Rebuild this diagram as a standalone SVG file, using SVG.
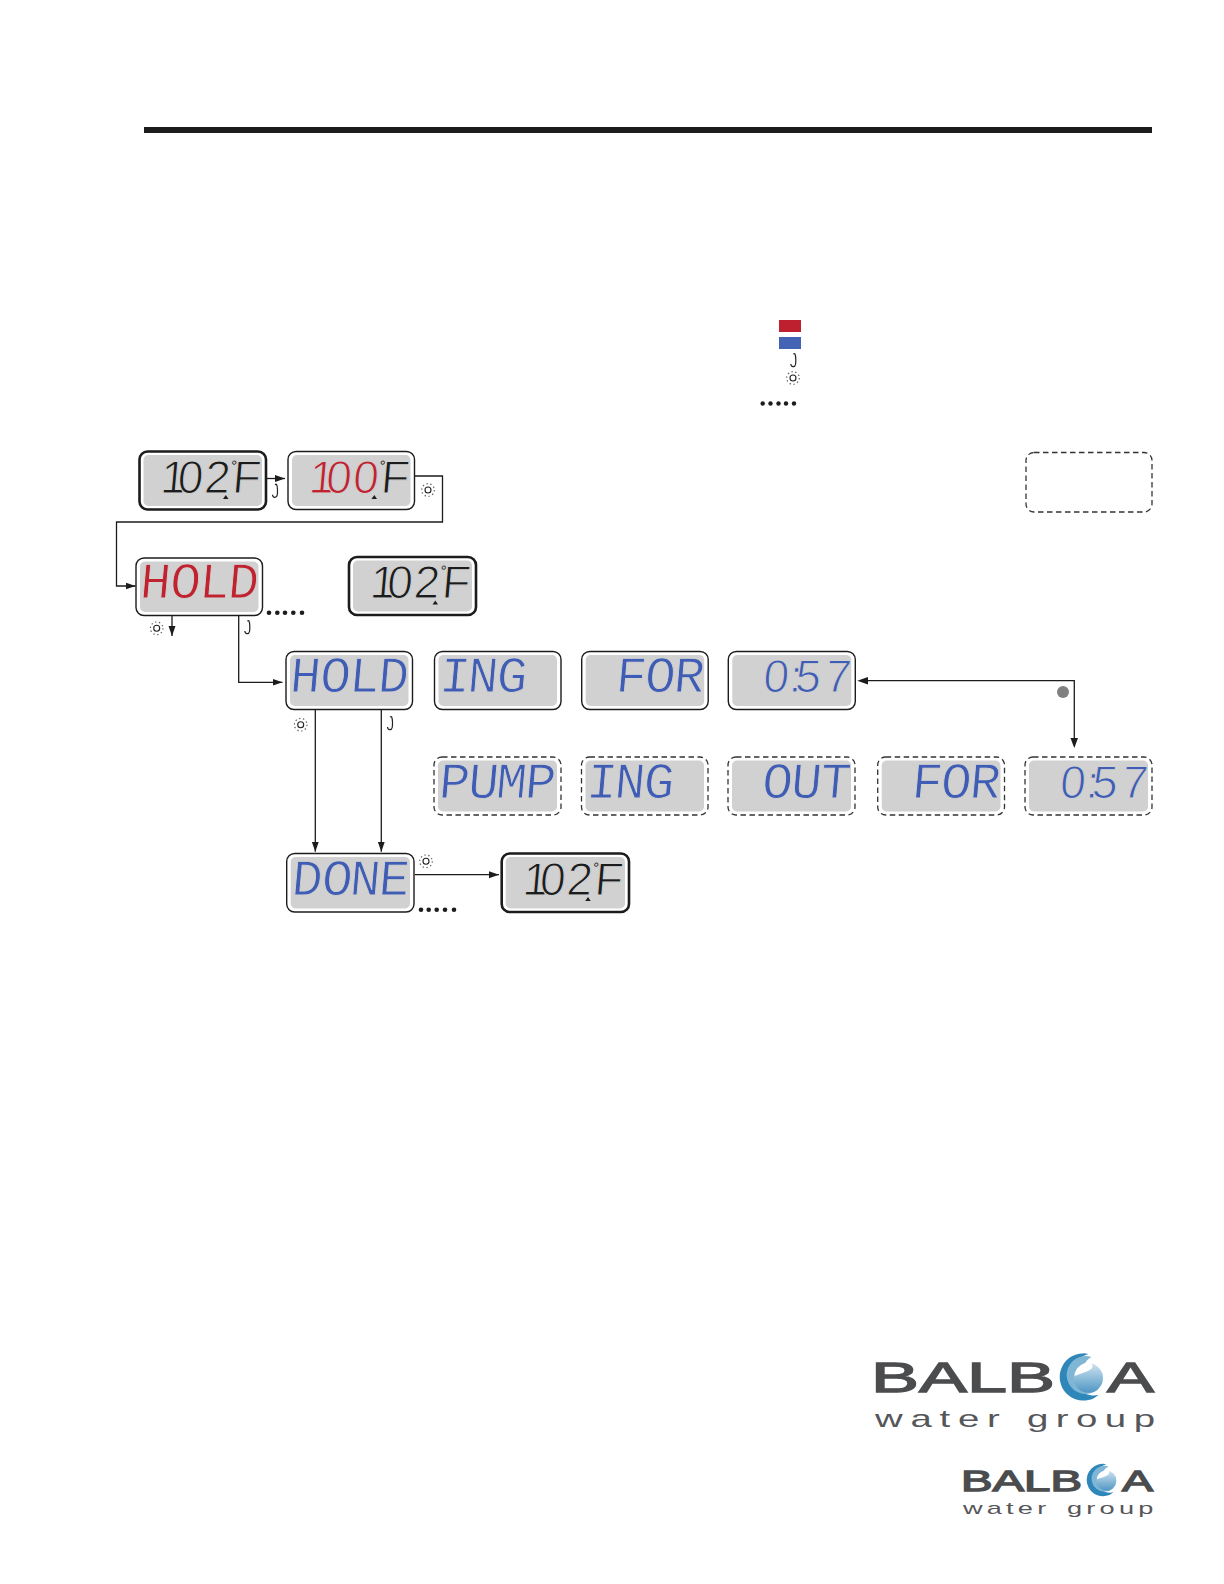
<svg xmlns="http://www.w3.org/2000/svg" width="1224" height="1584" viewBox="0 0 1224 1584">
<style>
.thin{fill:#fff;stroke:#1c1c1c;stroke-width:1.4}
.thick{fill:#fff;stroke:#1c1c1c;stroke-width:2.6}
.dash{fill:#fff;stroke:#333;stroke-width:1.3;stroke-dasharray:5.500 3.500}
.lcd{fill:#d1d1d1;stroke:none}
.seg{font-family:"Liberation Mono",monospace;font-size:51px;stroke:#d1d1d1;stroke-width:.9}
.num{font-family:"Liberation Sans",Arial,sans-serif;font-size:46px;stroke:#d1d1d1;stroke-width:1.1}
.deg{font-size:15px;stroke:none}
.k{fill:#1c1c1c}.r{fill:#c0222f}.b{fill:#3f5db5}
.tri{fill:#1c1c1c;stroke:none}
.wire{fill:none;stroke:#1c1c1c;stroke-width:1.3}
.dot{fill:#1c1c1c}
.logo{font-family:"Liberation Sans",Arial,sans-serif;fill:#4b4c4e}
.heavy{stroke:#4b4c4e;stroke-width:1.300}
.light{fill:#55565a}
</style>
<defs>
<marker id="ah" markerUnits="userSpaceOnUse" markerWidth="11" markerHeight="8" refX="10" refY="4" orient="auto"><path d="M0 .5L10 4L0 7.500Z" fill="#1c1c1c"/></marker>
<g id="sun"><circle r="3" fill="none" stroke="#222" stroke-width="1.100"/><circle r="6.300" fill="none" stroke="#666" stroke-width="1.200" stroke-dasharray="1.400 2.500"/></g>
<path id="hook" d="M.8-7.500C2-5 2 1 1.500 3.500C1 6.500-3 6.500-3.200 3M-.8-7L1-7.500" fill="none" stroke="#222" stroke-width="1.200"/>
<linearGradient id="sw" x1="0" y1="0" x2="0" y2="1"><stop offset="0" stop-color="#cfe2ef"/><stop offset="1" stop-color="#4f97c4"/></linearGradient>
<g id="swirl">
<path d="M6-22A22.500 22.500 0 1 0 16 17A20 20 0 0 1 6-22Z" fill="#2f86b8"/>
<path d="M9-19A18 18 0 1 0 16 11A16 16 0 0 1 9-19Z" fill="#7fb6d6"/>
<circle cx="6" cy="1" r="14" fill="url(#sw)"/>
<path d="M8-14C15-7 3-5-7-1C-7-8 0-14 8-14Z" fill="#fff"/>
</g>
</defs>
<rect id="top-rule" x="144" y="127" width="1008" height="6" fill="#1c1c1c"/>

<g id="legend">
<rect x="779" y="320" width="22" height="12" fill="#be2030"/>
<rect x="779" y="337" width="22" height="12" fill="#4463b5"/>
<use href="#hook" x="794" y="361"/>
<use href="#sun" x="793" y="378"/>
<g class="dot"><circle cx="762.700" cy="403.500" r="2.200"/><circle cx="770.500" cy="403.500" r="2.200"/><circle cx="778.500" cy="403.500" r="2.200"/><circle cx="786" cy="403.500" r="2.200"/><circle cx="794" cy="403.500" r="2.200"/></g>
</g>

<g id="connectors">
<path class="wire" marker-end="url(#ah)" d="M267 478.500H285"/>
<path class="wire" marker-end="url(#ah)" d="M415 476H442.500V522H116.500V586H135.500"/>
<path class="wire" marker-end="url(#ah)" d="M172 616V636"/>
<path class="wire" marker-end="url(#ah)" d="M238.700 616V682.300H282.500"/>
<path class="wire" marker-end="url(#ah)" d="M315.300 710V851.700"/>
<path class="wire" marker-end="url(#ah)" d="M381.300 710V851.700"/>
<path class="wire" marker-end="url(#ah)" d="M415 874.700H499"/>
<path class="wire" d="M866 680.700H1074.300V746"/>
<path d="M857.300 680.700L868 677V684.400Z" fill="#1c1c1c"/>
<path d="M1074.300 748L1070.500 738H1078Z" fill="#1c1c1c"/>
<circle cx="1063" cy="692" r="6" fill="#808080"/>
<use href="#sun" x="428" y="490"/><use href="#sun" x="156.700" y="628.300"/><use href="#sun" x="300.700" y="724.700"/><use href="#sun" x="426" y="861.300"/>
<use href="#hook" x="275.700" y="491.700"/><use href="#hook" x="248" y="628"/><use href="#hook" x="390.700" y="724"/>
<g class="dot"><circle cx="269" cy="612.700" r="2.300"/><circle cx="277.300" cy="612.700" r="2.300"/><circle cx="285" cy="612.700" r="2.300"/><circle cx="293.300" cy="612.700" r="2.300"/><circle cx="302" cy="612.700" r="2.300"/>
<circle cx="421" cy="909.700" r="2.300"/><circle cx="428.700" cy="909.700" r="2.300"/><circle cx="436.700" cy="909.700" r="2.300"/><circle cx="445" cy="909.700" r="2.300"/><circle cx="454" cy="909.700" r="2.300"/></g>
</g>

<g id="temp-102" transform="translate(139.500 451.500)"><rect class="thick" width="126.500" height="58" rx="8"/><rect class="lcd" x="4" y="3.500" width="118.500" height="51" rx="5"/><text class="num k" transform="translate(0 41) skewX(-5)"><tspan x="20 37 64">102</tspan><tspan class="deg" x="89" y="-22">°</tspan><tspan x="92" y="0">F</tspan></text><path class="tri" d="M86.300 43.500L89 47.500H83.500Z"/></g>
<g id="temp-100" transform="translate(288 451.500)"><rect class="thin" width="126.500" height="58" rx="8"/><rect class="lcd" x="4" y="3.500" width="118.500" height="51" rx="5"/><text class="num r" transform="translate(0 41) skewX(-5)"><tspan x="20 37 64">100</tspan><tspan class="k deg" x="89" y="-22">°</tspan><tspan class="k" x="92" y="0">F</tspan></text><path class="tri" d="M86.300 43.500L89 47.500H83.500Z"/></g>
<g id="hold-red" transform="translate(136 558)"><rect class="thin" width="126.500" height="57.500" rx="8"/><rect class="lcd" x="4" y="3.500" width="118.500" height="50.500" rx="5"/><text class="seg r" transform="translate(0 40) skewX(-5)" x="3 33 62 91">HOLD</text></g>
<g id="temp-102-b" transform="translate(349 557)"><rect class="thick" width="127" height="58" rx="8"/><rect class="lcd" x="4" y="3.500" width="119" height="51" rx="5"/><text class="num k" transform="translate(0 41) skewX(-5)"><tspan x="20 37 64">102</tspan><tspan class="deg" x="89" y="-22">°</tspan><tspan x="92" y="0">F</tspan></text><path class="tri" d="M86.300 43.500L89 47.500H83.500Z"/></g>

<g id="hold-blue" transform="translate(286 651.500)"><rect class="thin" width="126.500" height="58" rx="8"/><rect class="lcd" x="4" y="3.500" width="118.500" height="51" rx="5"/><text class="seg b" transform="translate(0 40.500) skewX(-5)" x="3 33 62 91">HOLD</text></g>
<g id="ing-1" transform="translate(434.500 651.500)"><rect class="thin" width="126.500" height="58" rx="8"/><rect class="lcd" x="4" y="3.500" width="118.500" height="51" rx="5"/><text class="seg b" transform="translate(0 40.500) skewX(-5)" x="4 32 61">ING</text></g>
<g id="for-1" transform="translate(581.700 651.500)"><rect class="thin" width="126.500" height="58" rx="8"/><rect class="lcd" x="4" y="3.500" width="118.500" height="51" rx="5"/><text class="seg b" transform="translate(0 40.500) skewX(-5)" x="33 62 91">FOR</text></g>
<g id="time-1" transform="translate(728.300 651.500)"><rect class="thin" width="127" height="58" rx="8"/><rect class="lcd" x="4" y="3.500" width="119" height="51" rx="5"/><text class="num b" transform="translate(0 40.500) skewX(-5)" x="34 60 66 96">0:57</text></g>

<g id="pump" transform="translate(434 757)"><rect class="dash" width="127" height="58" rx="8"/><rect class="lcd" x="4" y="3.500" width="119" height="51" rx="5"/><text class="seg b" transform="translate(0 40.500) skewX(-5)" x="4 33 61 90">PUMP</text></g>
<g id="ing-2" transform="translate(581.500 757)"><rect class="dash" width="126.500" height="58" rx="8"/><rect class="lcd" x="4" y="3.500" width="118.500" height="51" rx="5"/><text class="seg b" transform="translate(0 40.500) skewX(-5)" x="4 32 61">ING</text></g>
<g id="out" transform="translate(728 757)"><rect class="dash" width="127" height="58" rx="8"/><rect class="lcd" x="4" y="3.500" width="119" height="51" rx="5"/><text class="seg b" transform="translate(0 40.500) skewX(-5)" x="33 62 91">OUT</text></g>
<g id="for-2" transform="translate(877.700 757)"><rect class="dash" width="126.800" height="58" rx="8"/><rect class="lcd" x="4" y="3.500" width="118.800" height="51" rx="5"/><text class="seg b" transform="translate(0 40.500) skewX(-5)" x="33 62 91">FOR</text></g>
<g id="time-2" transform="translate(1025 757)"><rect class="dash" width="127" height="58" rx="8"/><rect class="lcd" x="4" y="3.500" width="119" height="51" rx="5"/><text class="num b" transform="translate(0 40.500) skewX(-5)" x="34 60 66 96">0:57</text></g>

<g id="done" transform="translate(286.700 853.500)"><rect class="thin" width="127.300" height="58.500" rx="8"/><rect class="lcd" x="4" y="3.500" width="119.300" height="51.500" rx="5"/><text class="seg b" transform="translate(0 41.500) skewX(-5)" x="4 34 62 91">DONE</text></g>
<g id="temp-102-c" transform="translate(501.700 853.500)"><rect class="thick" width="127.300" height="58.500" rx="8"/><rect class="lcd" x="4" y="3.500" width="119.300" height="51.500" rx="5"/><text class="num k" transform="translate(0 41) skewX(-5)"><tspan x="20 37 64">102</tspan><tspan class="deg" x="89" y="-22">°</tspan><tspan x="92" y="0">F</tspan></text><path class="tri" d="M86.300 43.500L89 47.500H83.500Z"/></g>

<g id="key-box"><rect class="dash" x="1026" y="452.500" width="126" height="59.500" rx="8"/></g>

<g id="logo-large">
<text class="logo heavy" x="871" y="1392" font-size="43" textLength="184" lengthAdjust="spacingAndGlyphs">BALB</text>
<use href="#swirl" transform="translate(1082 1377) scale(1.050)"/>
<text class="logo heavy" x="1107" y="1392" font-size="43" textLength="47" lengthAdjust="spacingAndGlyphs">A</text>
<text class="logo light" transform="translate(875 1427) scale(1.600 1)" x="0" y="0" font-size="24" textLength="78" lengthAdjust="spacing">water</text>
<text class="logo light" transform="translate(1027 1427) scale(1.600 1)" x="0" y="0" font-size="24" textLength="80" lengthAdjust="spacing">group</text>
</g>
<g id="logo-small">
<text class="logo heavy" x="961" y="1491" font-size="29" textLength="121" lengthAdjust="spacingAndGlyphs">BALB</text>
<use href="#swirl" transform="translate(1102 1480) scale(.720)"/>
<text class="logo heavy" x="1122" y="1491" font-size="29" textLength="31" lengthAdjust="spacingAndGlyphs">A</text>
<text class="logo light" transform="translate(963 1514) scale(1.600 1)" x="0" y="0" font-size="17" textLength="52" lengthAdjust="spacing">water</text>
<text class="logo light" transform="translate(1067 1514) scale(1.600 1)" x="0" y="0" font-size="17" textLength="54" lengthAdjust="spacing">group</text>
</g>
</svg>
